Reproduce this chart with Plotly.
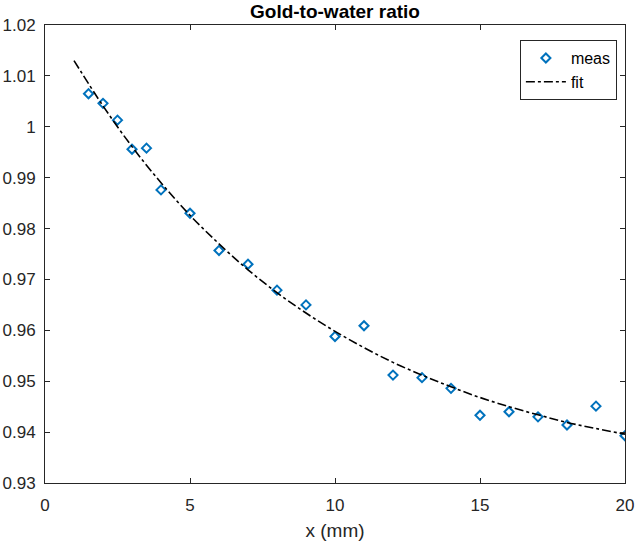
import plotly.graph_objects as go

# measured points
meas_x = [1.5, 2, 2.5, 3, 3.5, 4, 5, 6, 7, 8, 9, 10, 11, 12, 13, 14, 15, 16, 17, 18, 19, 20]
meas_y = [1.0065, 1.0046, 1.0013, 0.9956, 0.9958, 0.9876, 0.9830, 0.9757, 0.9730, 0.9679,
          0.9650, 0.9588, 0.9609, 0.9512, 0.9507, 0.9486, 0.9433, 0.9440, 0.9430, 0.9414,
          0.9451, 0.9393]

# fit curve
fit_x = [1, 2, 3, 4, 5, 6, 7, 8, 9, 10, 11, 12, 13, 14, 15, 16, 17, 18, 19, 20]
fit_y = [1.0130, 1.0041, 0.9961, 0.9890, 0.9826, 0.9770, 0.9719, 0.9674, 0.9634, 0.9598,
         0.9566, 0.9537, 0.9512, 0.9489, 0.9468, 0.9450, 0.9434, 0.9419, 0.9407, 0.9396]

x_ticks = [0, 5, 10, 15, 20]
y_ticks = [0.93, 0.94, 0.95, 0.96, 0.97, 0.98, 0.99, 1.00, 1.01, 1.02]
y_tick_text = ["0.93", "0.94", "0.95", "0.96", "0.97", "0.98", "0.99", "1", "1.01", "1.02"]

FONT = "Liberation Sans, Arial, sans-serif"
AX = "#262626"

fig = go.Figure()
fig.add_trace(go.Scatter(
    x=meas_x, y=meas_y, mode="markers", name="meas",
    marker=dict(symbol="diamond-open", size=7, color="#0072BD",
                line=dict(width=2, color="#0072BD")),
))
fig.add_trace(go.Scatter(
    x=fit_x, y=fit_y, mode="lines", name="fit",
    line=dict(color="black", width=1.6, dash="dashdot", shape="spline"),
))

axis_common = dict(
    showgrid=False, zeroline=False, showline=True, linecolor=AX, linewidth=1,
    mirror="ticks", ticks="inside", ticklen=5, tickcolor=AX, tickwidth=1,
    tickfont=dict(family=FONT, size=17, color=AX), automargin=False,
)

fig.update_layout(
    width=638, height=542,
    margin=dict(l=45, r=13, t=25, b=59),
    paper_bgcolor="white", plot_bgcolor="white",
    title=dict(text="<b>Gold-to-water ratio</b>", x=0.5, xanchor="center",
               xref="paper", y=1, yref="paper", yanchor="bottom", pad=dict(b=7),
               font=dict(family=FONT, size=19, color="black")),
    xaxis=dict(range=[0, 20], tickvals=x_ticks, ticktext=[str(v) for v in x_ticks],
               title=dict(text="x (mm)", font=dict(family=FONT, size=19, color=AX), standoff=9),
               ticklabelstandoff=7, **axis_common),
    yaxis=dict(range=[0.93, 1.02], tickvals=y_ticks, ticktext=y_tick_text,
               ticklabelstandoff=5, **axis_common),
    showlegend=True,
    legend=dict(x=0.986, y=0.967, xanchor="right", yanchor="top",
                bgcolor="white", bordercolor=AX, borderwidth=1,
                font=dict(family=FONT, size=16, color="black"),
                itemwidth=40, tracegroupgap=0),
)

fig.write_html("out.html")
